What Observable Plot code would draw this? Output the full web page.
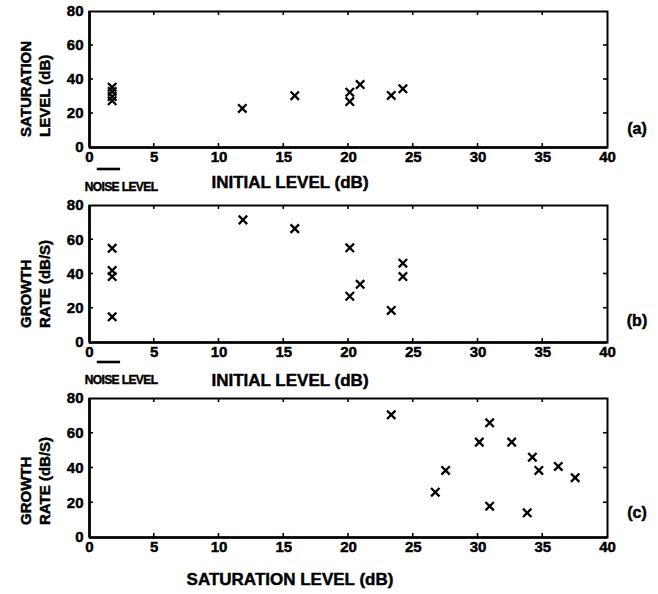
<!DOCTYPE html>
<html><head><meta charset="utf-8">
<script src="https://cdn.jsdelivr.net/npm/d3@7"></script>
<script src="https://cdn.jsdelivr.net/npm/@observablehq/plot@0.6"></script>
<style>
html,body{margin:0;padding:0;background:#fff;}
#chart{width:658px;height:594px;font-family:"Liberation Sans",Arial,sans-serif;}
#chart svg{display:block;}
#chart svg text{stroke:#000;stroke-width:0.45px;}
</style></head><body><div id="chart"></div>
<script>
// Panel (a): initial level vs saturation level
const initialLevelA = [1.75, 1.75, 1.75, 1.75, 11.8, 15.85, 20.1, 20.1, 20.9, 23.3, 24.2];
const saturationLevelA = [35.5, 33, 30, 27.5, 23, 30.5, 32.5, 27, 37, 30.6, 34.5];
// Panel (b): initial level vs growth rate
const initialLevelB = [1.75, 1.75, 1.75, 1.75, 11.85, 15.85, 20.1, 20.1, 20.9, 23.3, 24.2, 24.2];
const growthRateB = [55, 42, 38.5, 15, 71.6, 66.5, 55.3, 27, 34, 18.7, 46.3, 38.5];
// Panel (c): saturation level vs growth rate
const saturationLevelC = [23.3, 26.7, 27.5, 30.1, 30.9, 30.9, 32.6, 33.8, 34.2, 34.7, 36.2, 37.5];
const growthRateC = [70.6, 26.1, 38.6, 54.9, 66, 18, 54.9, 14.2, 46.2, 38.6, 40.9, 34.4];
// Axes
const xTicks = [0, 5, 10, 15, 20, 25, 30, 35, 40];
const yTicks = [0, 20, 40, 60, 80];
const noiseLevel = [0.6, 2.4];
const panelTags = ["(a)", "(b)", "(c)"];
const yLabelsA = ["SATURATION", "LEVEL (dB)"];
const yLabelsGrowth = ["GROWTH", "RATE (dB/S)"];
const xLabelA = "INITIAL LEVEL (dB)";
const xLabelC = "SATURATION LEVEL (dB)";
const noiseText = "NOISE LEVEL";

const FONT = "Liberation Sans, Arial, Helvetica, sans-serif";

const panels = [
  {x: initialLevelA, y: saturationLevelA, height: 195, mt: 11, mb: 48,
   yLabels: yLabelsA, yLabelBottom: 10, xLabel: xLabelA, xLabelY: 188, tag: panelTags[0], tagY: 134,
   noise: true, noiseBarY: 22, noiseTextY: 191},
  {x: initialLevelB, y: growthRateB, height: 195, mt: 10, mb: 48,
   yLabels: yLabelsGrowth, yLabelBottom: 14, xLabel: xLabelA, xLabelY: 191, tag: panelTags[1], tagY: 131,
   noise: true, noiseBarY: 20, noiseTextY: 189},
  {x: saturationLevelC, y: growthRateC, height: 204, mt: 8, mb: 57,
   yLabels: yLabelsGrowth, yLabelBottom: 12, xLabel: xLabelC, xLabelY: 195, tag: panelTags[2], tagY: 128,
   noise: false}
];

const container = document.getElementById("chart");

for (const p of panels) {
  const data = p.x.map((v, i) => ({x: v, y: p.y[i]}));
  const plot = Plot.plot({
    width: 658,
    height: p.height,
    marginTop: p.mt,
    marginBottom: p.mb,
    marginLeft: 89,
    marginRight: 51,
    style: {fontFamily: FONT, fontSize: "15px", fontWeight: "bold", color: "#000", background: "#fff", overflow: "visible"},
    x: {domain: [0, 40], ticks: xTicks, tickSize: 0, tickPadding: 4, label: null},
    y: {domain: [0, 80], ticks: yTicks, tickSize: 0, tickPadding: 6, label: null},
    marks: [
      Plot.frame({stroke: "#000", strokeWidth: 2}),
      Plot.ruleX([0], {stroke: "#000", strokeWidth: 2.6}),
      Plot.ruleY([0], {stroke: "#000", strokeWidth: 2.6}),
      Plot.dot(data, {x: "x", y: "y", symbol: "times", r: 3.9, stroke: "#000", strokeWidth: 2.3})
    ]
  });
  container.appendChild(plot);

  const sx = plot.scale("x"), sy = plot.scale("y");
  const X = v => sx.apply(v), Y = v => sy.apply(v);
  const svg = d3.select(plot);
  const g = svg.append("g").attr("stroke", "#000").attr("stroke-width", 1.6);
  const x0 = X(0), x1 = X(40), y0 = Y(0), y1 = Y(80);
  const T = 4;
  for (const t of xTicks.slice(1, -1)) {
    g.append("line").attr("x1", X(t)).attr("x2", X(t)).attr("y1", y0).attr("y2", y0 - T);
    g.append("line").attr("x1", X(t)).attr("x2", X(t)).attr("y1", y1).attr("y2", y1 + T);
  }
  for (const t of yTicks.slice(1, -1)) {
    g.append("line").attr("x1", x0).attr("x2", x0 + T).attr("y1", Y(t)).attr("y2", Y(t));
    g.append("line").attr("x1", x1).attr("x2", x1 - T).attr("y1", Y(t)).attr("y2", Y(t));
  }

  const txt = svg.append("g").attr("font-family", FONT).attr("font-weight", "bold").attr("fill", "#000");
  // y-axis labels (two rotated lines)
  const yStart = y0 - p.yLabelBottom;
  [31, 50].forEach((bx, i) => {
    txt.append("text").attr("transform", `translate(${bx},${yStart}) rotate(-90)`)
      .attr("font-size", 15).attr("text-anchor", "start").text(p.yLabels[i]);
  });
  // x-axis label
  txt.append("text").attr("x", 290).attr("y", p.xLabelY).attr("font-size", 17)
    .attr("text-anchor", "middle").text(p.xLabel);
  // panel tag
  txt.append("text").attr("x", 637).attr("y", p.tagY).attr("font-size", 16)
    .attr("text-anchor", "middle").text(p.tag);
  // noise level bar and text
  if (p.noise) {
    svg.append("line").attr("x1", X(noiseLevel[0])).attr("x2", X(noiseLevel[1]))
      .attr("y1", y0 + p.noiseBarY).attr("y2", y0 + p.noiseBarY)
      .attr("stroke", "#000").attr("stroke-width", 2.6);
    txt.append("text").attr("x", 121).attr("y", p.noiseTextY).attr("font-size", 12)
      .attr("letter-spacing", "-0.6px").attr("text-anchor", "middle").text(noiseText);
  }
}
</script>
</body></html>
